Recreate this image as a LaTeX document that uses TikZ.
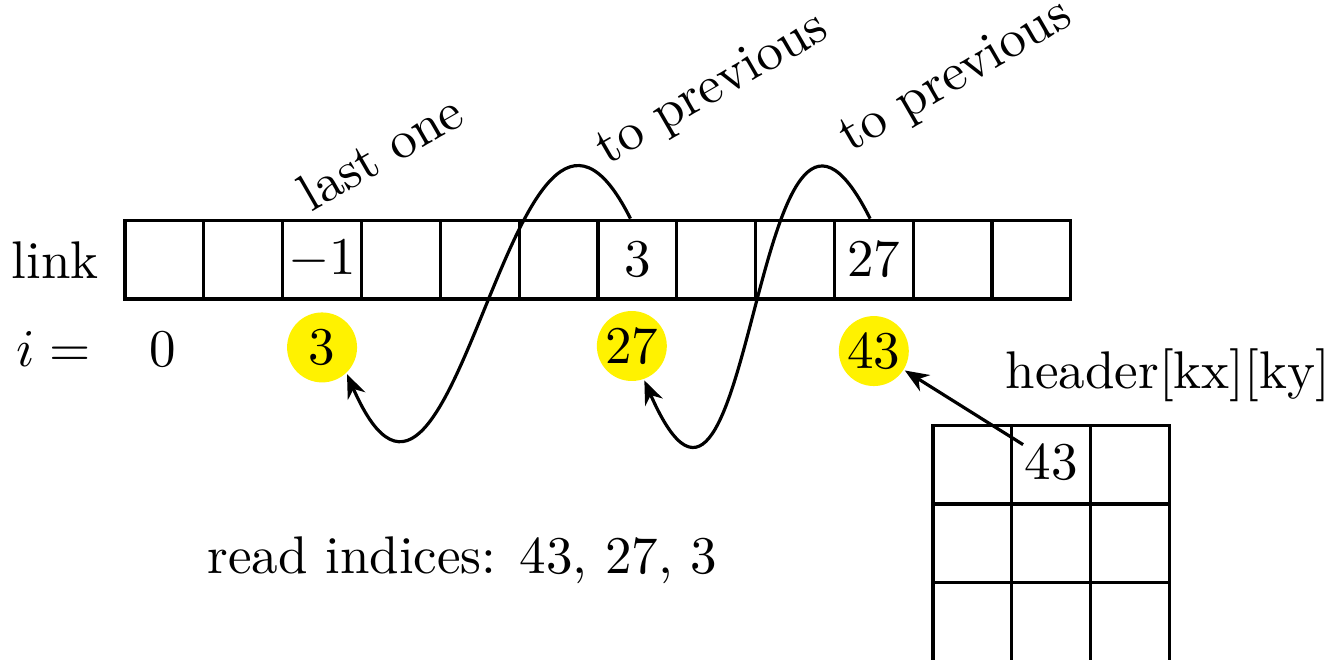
\documentclass[tikz,border=0pt]{standalone}
\usetikzlibrary{positioning, arrows.meta}
\begin{document}
\begin{tikzpicture}[
    x=14.87pt, y=14.87pt,
    semithick,
    slot/.style={draw, minimum size=14.87pt, inner sep=0pt},
    hit/.style={circle, fill=yellow, minimum size=13.2pt, inner sep=0pt},
    note/.style={rotate=30, anchor=base west, inner sep=0pt},
    back/.style={-{Stealth[length=4.5pt, width=3.6pt]}}
  ]
  \useasboundingbox (-1.586,-4.569) rectangle (15.30,3.794);
  % link array
  \foreach \k/\v in {0/{},1/{},2/$-1$,3/{},4/{},5/{},6/3,7/{},8/{},9/27,10/{},11/{}}
    \node[slot] (l\k) at (\k+0.5,0.5) {\v};
  \node[left=1pt of l0] (link) {link};
  \node[anchor=base east] (ieq) at (-0.196,-0.85) {$i=$};
  \node[anchor=base] (i0) at (0.48,-0.85) {0};
  \node[hit] (n3) at (2.5,-0.614) {3};
  \node[hit] (n27) at (6.43,-0.596) {27};
  \node[hit] (n43) at (9.5,-0.66) {43};
  % notes
  \node[note] (last) at (2.35,1.09) {last one};
  \node[note] (prev1) at (6.10,1.69) {to previous};
  \node[note] (prev2) at (9.19,1.85) {to previous};
  % header table
  \foreach \r in {0,1,2}
    \foreach \c in {0,1,2}
      \node[slot] (g\r\c) at (10.75+\c,-2.1-\r) {};
  \node[inner sep=0pt] (h43) at (11.75,-2.07) {43};
  \node[anchor=base] (hdr) at (13.23,-1.13) {header[kx][ky]};
  \node[anchor=base] (read) at (4.28,-3.48) {read indices: 43, 27, 3};
  % chain
  \draw[back] ([xshift=-1.3pt]l6.north) .. controls +(-1.5,3) and +(1.4,-3.2) .. (n3.-47);
  \draw[back] ([xshift=-0.7pt]l9.north) .. controls +(-1.5,3) and +(1.4,-3.2) .. (n27.-70);
  \draw[back] (h43) -- (n43);
\end{tikzpicture}
\end{document}
